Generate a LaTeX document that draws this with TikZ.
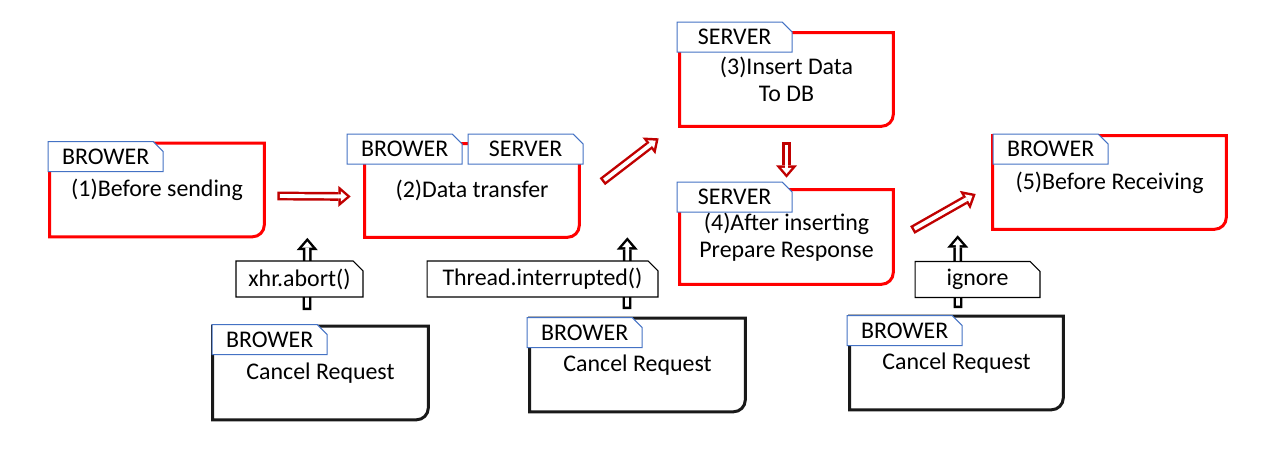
\documentclass[tikz,border=0pt]{standalone}
\usepackage{fontspec}
\setmainfont{Carlito}
\usetikzlibrary{shapes.misc}
\usetikzlibrary{arrows.meta}

\definecolor{boxred}{HTML}{FF0000}
\definecolor{arrowred}{HTML}{C00000}
\definecolor{tagblue}{HTML}{4472C4}

\tikzset{
  box/.style={minimum width=4.28cm, minimum height=1.86cm, align=center, inner sep=0pt},
  redline/.style={draw=boxred, line width=1.7pt},
  blackline/.style={draw=black!90, line width=1.7pt},
  tag/.style={chamfered rectangle, chamfered rectangle corners=north east,
              chamfered rectangle xsep=2.5pt, draw=tagblue, line width=0.6pt, fill=white,
              minimum width=2.3cm, minimum height=0.6cm, inner sep=0pt, anchor=north west},
  note/.style={chamfered rectangle, chamfered rectangle corners=north east,
               chamfered rectangle xsep=2.5pt, draw=black, line width=0.6pt, fill=white,
               minimum height=0.72cm, inner sep=0pt},
  hollow/.style={line width=5pt, draw=#1, -{Triangle[length=7pt,width=12pt,line width=0pt]},
                 postaction={draw=white, line width=2.2pt, shorten <=1.4pt, shorten >=2.15pt,
                             -{Triangle[length=3.45pt,width=5.9pt,line width=0pt]}}}
}

\begin{document}
\begin{tikzpicture}[x=0.02cm, y=-0.02cm, font=\fontsize{13.6}{15.3}\selectfont]
  \useasboundingbox (0,0) rectangle (1280,452);

  % states of the request
  \node[box] (s1) at (157,190) {(1)Before sending};
  \node[box] (s2) at (472,190.5) {(2)Data transfer};
  \node[box, minimum width=4.26cm] (s3) at (786.5,79.5) {(3)Insert Data\\To DB};
  \node[box, minimum width=4.26cm, minimum height=1.88cm] (s4) at (786.5,237) {(4)After inserting\\Prepare Response};
  \node[box, minimum width=4.66cm] (s5) at (1109.5,182.5) {(5)Before Receiving};

  % cancel requests
  \node[box, minimum width=4.3cm] (c1) at (320.5,373) {Cancel Request};
  \node[box, minimum width=4.3cm] (c2) at (637.5,365) {Cancel Request};
  \node[box, minimum width=4.26cm] (c3) at (956.5,363) {Cancel Request};

  % borders, round corner bottom right only
  \foreach \b in {s1,s2,s3,s4,s5}
    \draw[redline] (\b.north west) -- (\b.north east) -- ([yshift=0.24cm]\b.south east)
      arc[start angle=0, end angle=-90, radius=0.24cm] -- (\b.south west) -- cycle;
  \foreach \b in {c1,c2,c3}
    \draw[blackline] (\b.north west) -- (\b.north east) -- ([yshift=0.24cm]\b.south east)
      arc[start angle=0, end angle=-90, radius=0.24cm] -- (\b.south west) -- cycle;

  % side tags
  \node[tag] (t1) at ([shift={(-2,-2)}]s1.north west) {BROWER};
  \node[tag] (t2a) at ([shift={(-18,-10)}]s2.north west) {BROWER};
  \node[tag] (t2b) at ([shift={(103,-10)}]s2.north west) {SERVER};
  \node[tag] (t3) at ([shift={(-3,-11)}]s3.north west) {SERVER};
  \node[tag] (t4) at ([shift={(-3,-8)}]s4.north west) {SERVER};
  \node[tag] (t5) at ([shift={(0,-2)}]s5.north west) {BROWER};
  \node[tag] (tc1) at ([shift={(-1,-2)}]c1.north west) {BROWER};
  \node[tag] (tc2) at ([shift={(-3,-1)}]c2.north west) {BROWER};
  \node[tag] (tc3) at ([shift={(-3,-1)}]c3.north west) {BROWER};

  % flow
  \draw[hollow=arrowred] ([shift={(13,6)}]s1.east) -- ([shift={(-14,6)}]s2.west);
  \draw[hollow=arrowred] ([shift={(23,38)}]s2.north east) -- ([shift={(-21,12)}]s3.south west);
  \draw[hollow=arrowred] ([shift={(0,16)}]s3.south) -- ([shift={(0,-12)}]s4.north);
  \draw[hollow=arrowred] ([shift={(19,-7)}]s4.east) -- ([shift={(-17,11.5)}]s5.west);

  % cancelling
  \draw[hollow=black] ([shift={(-13.5,-16)}]c1.north) -- ([shift={(43,1)}]s1.south east);
  \draw[hollow=black] ([shift={(-10.5,-9)}]c2.north) -- ([shift={(48,0)}]s2.south east);
  \draw[hollow=black] ([shift={(1.5,-8)}]c3.north) -- ([shift={(-35,6)}]s5.south west);

  \node[note, minimum width=2.54cm] (l1) at (299.5,279) {xhr.abort()};
  \node[note, minimum width=4.62cm] (l2) at (542.5,279) {Thread.interrupted()};
  \node[note, minimum width=2.5cm] (l3) at (977.5,279.5) {ignore};
\end{tikzpicture}
\end{document}
